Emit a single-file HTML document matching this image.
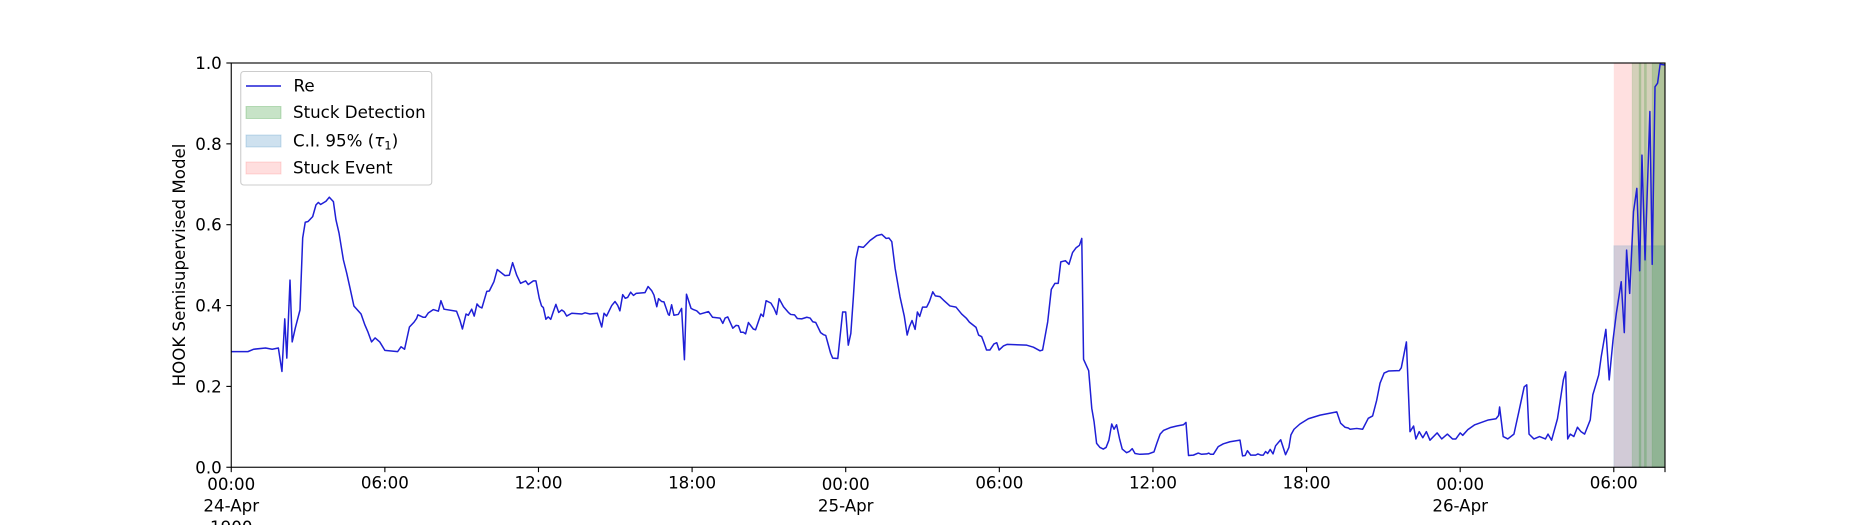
<!DOCTYPE html>
<html lang="en">
<head>
<meta charset="utf-8">
<title>HOOK Semisupervised Model chart</title>
<style>
html,body{margin:0;padding:0;background:#fff;width:1850px;height:525px;overflow:hidden}
svg{display:block}
text{font-family:"DejaVu Sans","Liberation Sans",sans-serif;fill:#000;font-size:16.67px}
</style>
</head>
<body>
<svg id="chart" xmlns="http://www.w3.org/2000/svg" width="1850" height="525" viewBox="0 0 1850 525">
  <defs><clipPath id="plot-clip"><rect x="231.25" y="63" width="1433.75" height="404.25"/></clipPath></defs>
  <g id="bands"></g>
  <g id="series" clip-path="url(#plot-clip)"></g>
  <g id="axes"></g>
  <text transform="translate(185,265) rotate(-90)" text-anchor="middle">HOOK Semisupervised Model</text>
  <g>
    <rect x="240.75" y="71.5" width="191" height="113.5" rx="3" fill="#fff" fill-opacity="0.8" stroke="#ccc" stroke-width="1.1"/>
    <line x1="246" y1="86" x2="281" y2="86" stroke="#1f1fd6" stroke-width="1.39"/>
    <text x="293.5" y="91.5">Re</text>
    <rect x="246" y="106.5" width="35" height="12" fill="rgb(0,128,0)" fill-opacity="0.22" stroke="rgb(0,128,0)" stroke-opacity="0.22"/>
    <text x="293" y="118">Stuck Detection</text>
    <rect x="246" y="135" width="35" height="12" fill="rgb(31,119,180)" fill-opacity="0.22" stroke="rgb(31,119,180)" stroke-opacity="0.22"/>
    <text x="293" y="146.5">C.I. 95% (<tspan font-style="italic">τ</tspan><tspan font-size="11.7" dy="3">1</tspan><tspan dy="-3">)</tspan></text>
    <rect x="246" y="162" width="35" height="12" fill="rgb(255,0,0)" fill-opacity="0.13" stroke="rgb(255,0,0)" stroke-opacity="0.13"/>
    <text x="293" y="173.5">Stuck Event</text>
  </g>
</svg>
<script>
const hours = [
0,.65,.88,1.34,1.6,1.84,1.98,2.09,2.17,2.295,
2.38,2.5,2.685,2.79,2.89,3.0,3.18,3.31,3.40,3.49,
3.70,3.83,3.99,4.09,4.21,4.38,4.51,4.64,4.79,5.07,
5.22,5.33,5.48,5.62,5.8,6.0,6.5,6.63,6.77,6.96,
7.14,7.24,7.29,7.5,7.58,7.7,7.89,8.09,8.19,8.31,
8.8,8.93,9.03,9.17,9.26,9.39,9.49,9.6,9.69,9.79,
9.98,10.08,10.26,10.39,10.69,10.86,10.99,11.15,11.3,11.5,
11.6,11.8,11.9,12.03,12.12,12.19,12.29,12.38,12.48,12.58,
12.68,12.79,12.91,13,13.1,13.3,13.69,13.82,14.01,14.3,
14.47,14.56,14.66,14.86,14.99,15.09,15.18,15.29,15.39,15.48,
15.6,15.71,15.81,16.16,16.28,16.42,16.51,16.62,16.69,16.81,
16.9,17.07,17.11,17.2,17.29,17.46,17.59,17.7,17.78,17.96,
18.05,18.18,18.31,18.64,18.8,19.09,19.2,19.29,19.39,19.59,
19.72,19.81,19.9,20,20.09,20.2,20.39,20.48,20.69,20.78,
20.89,21.08,21.2,21.3,21.4,21.57,21.76,21.85,22,22.11,
22.28,22.48,22.61,22.71,22.83,23.02,23.13,23.22,23.32,23.41,
23.49,23.69,23.88,24,24.1,24.2,24.3,24.39,24.5,24.69,
24.95,25.21,25.41,25.58,25.69,25.8,25.93,26.12,26.29,26.4,
26.49,26.59,26.71,26.8,26.89,27,27.16,27.27,27.4,27.5,
27.68,27.81,28.07,28.31,28.53,28.72,28.83,29.09,29.19,29.31,
29.4,29.5,29.63,29.79,29.9,29.99,30.16,30.31,31.07,31.33,
31.59,31.69,31.89,32.03,32.17,32.3,32.4,32.58,32.72,32.86,
33,33.13,33.22,33.29,33.49,33.61,33.7,33.8,33.93,34.06,
34.17,34.28,34.39,34.48,34.58,34.69,34.8,34.97,35.08,35.19,
35.3,35.49,35.82,36.04,36.15,36.28,36.41,36.67,36.93,37.19,
37.29,37.39,37.58,37.77,37.9,38.1,38.18,38.25,38.36,38.55,
38.75,39.01,39.4,39.5,39.6,39.69,39.82,40.01,40.1,40.21,
40.31,40.4,40.48,40.58,40.69,40.79,40.99,41.18,41.31,41.39,
41.51,41.74,42.07,42.53,43.18,43.33,43.5,43.63,43.7,43.96,
44.19,44.41,44.58,44.74,44.87,45.03,45.2,45.62,45.7,45.9,
46.04,46.18,46.27,46.4,46.54,46.68,46.82,47.1,47.28,47.5,
47.7,47.83,48,48.1,48.3,48.57,49.1,49.4,49.5,49.54,
49.68,49.86,50.1,50.28,50.5,50.6,50.69,50.88,51.1,51.33,
51.43,51.57,51.8,52.03,52.12,52.2,52.3,52.44,52.58,52.72,
52.86,53.08,53.18,53.41,53.51,53.69,53.82,53.97,54.1,54.29,
54.41,54.5,54.62,54.77,54.9,55.01,55.1,55.22,55.41,55.5,
55.61,55.71,55.81,56
];
const reValues = [
.286,.286,.292,.295,.292,.295,.237,.367,.27,.463,
.31,.344,.389,.567,.606,.608,.62,.649,.655,.65,
.658,.668,.657,.612,.579,.513,.48,.443,.399,.379,
.352,.336,.31,.32,.31,.289,.286,.298,.292,.347,
.359,.368,.377,.371,.371,.382,.39,.386,.412,.391,
.386,.364,.342,.379,.376,.391,.374,.404,.397,.394,
.435,.436,.459,.489,.474,.475,.506,.475,.455,.461,
.452,.461,.461,.418,.399,.395,.366,.372,.366,.385,
.403,.383,.389,.385,.374,.381,.379,.382,.379,.381,
.347,.381,.374,.4,.41,.401,.387,.427,.418,.42,
.433,.425,.43,.432,.447,.437,.426,.397,.417,.41,
.409,.378,.376,.402,.376,.378,.393,.266,.428,.393,
.39,.387,.379,.385,.371,.369,.356,.369,.372,.344,
.351,.35,.334,.334,.33,.358,.342,.34,.379,.373,
.412,.406,.393,.378,.417,.397,.383,.378,.377,.368,
.367,.371,.369,.36,.358,.333,.328,.326,.303,.282,
.27,.269,.384,.384,.302,.331,.422,.513,.546,.544,
.561,.573,.576,.566,.567,.558,.492,.422,.373,.327,
.348,.363,.341,.384,.373,.396,.396,.41,.434,.424,
.422,.414,.399,.396,.379,.368,.359,.346,.327,.323,
.308,.29,.29,.305,.308,.29,.3,.304,.302,.297,
.288,.29,.36,.44,.455,.455,.508,.511,.502,.531,
.543,.549,.566,.267,.239,.146,.113,.059,.049,.045,
.049,.067,.107,.094,.105,.072,.045,.036,.039,.046,
.034,.032,.033,.038,.059,.082,.091,.098,.102,.105,
.111,.029,.03,.035,.032,.033,.035,.032,.032,.051,
.058,.063,.067,.028,.029,.041,.03,.03,.033,.03,
.03,.039,.034,.044,.033,.053,.068,.031,.049,.08,
.094,.107,.12,.129,.137,.109,.099,.097,.094,.096,
.094,.121,.127,.166,.208,.233,.238,.239,.246,.31,
.088,.102,.07,.088,.073,.088,.067,.085,.07,.082,
.07,.07,.085,.079,.093,.105,.117,.12,.128,.149,
.076,.07,.082,.134,.199,.204,.082,.07,.076,.07,
.082,.067,.12,.216,.236,.07,.082,.076,.099,.088,
.082,.117,.179,.228,.274,.341,.216,.315,.381,.459,
.333,.537,.43,.632,.69,.486,.772,.513,.88,.502,
.941,.95,.997,.995
];
const yTicks = [0, 0.2, 0.4, 0.6, 0.8, 1.0];
const xTickHours = [0, 6, 12, 18, 24, 30, 36, 42, 48, 54, 56];
const xTickTimes = ["00:00","06:00","12:00","18:00","00:00","06:00","12:00","18:00","00:00","06:00",""];
const xTickDates = ["24-Apr","","","","25-Apr","","","","26-Apr","",""];
const xTickYears = ["1900","","","","","","","","","",""];
const stuckEventSpan = [54, 56];
const confidenceSpan = [54, 56];
const confidenceTop = 0.548;
const detectionStarts = [54.72, 54.99, 55.2, 55.5];
const detectionEnds = [56, 55.06, 55.27, 56];

const NS = 'http://www.w3.org/2000/svg';
const plotLeft = 231.25, plotRight = 1665, plotTop = 63, plotBottom = 467.25;
const xDomainMax = 56;
function xScale(h){ return plotLeft + (h / xDomainMax) * (plotRight - plotLeft); }
function yScale(v){ return plotBottom - v * (plotBottom - plotTop); }
function make(tag, attrs, parent){
  const el = document.createElementNS(NS, tag);
  for (const k in attrs) el.setAttribute(k, attrs[k]);
  parent.appendChild(el);
  return el;
}
const bands = document.getElementById('bands');
const series = document.getElementById('series');
const axes = document.getElementById('axes');

const pink = make('rect', {x:xScale(stuckEventSpan[0]), y:yScale(1), width:xScale(stuckEventSpan[1])-xScale(stuckEventSpan[0]), height:yScale(0)-yScale(1), fill:'rgb(255,0,0)', 'fill-opacity':0.12}, bands);



const ci = make('rect', {x:xScale(confidenceSpan[0]), y:yScale(confidenceTop), width:xScale(confidenceSpan[1])-xScale(confidenceSpan[0]), height:yScale(0)-yScale(confidenceTop), fill:'rgb(31,119,180)', 'fill-opacity':0.2, stroke:'rgb(31,119,180)', 'stroke-opacity':0.1}, bands);



detectionStarts.forEach(function(start, i){
  const r = make('rect', {x:xScale(start), y:yScale(1), width:xScale(detectionEnds[i])-xScale(start), height:yScale(0)-yScale(1), fill:'rgb(0,128,0)', 'fill-opacity':0.17, stroke:'rgb(0,128,0)', 'stroke-opacity':0.1}, bands);
  
  
});

const points = hours.map(function(h, i){ return xScale(h).toFixed(2) + ',' + yScale(reValues[i]).toFixed(2); }).join(' ');
const reLine = make('polyline', {points:points, fill:'none', stroke:'#1f1fd6', 'stroke-width':1.5, 'stroke-linejoin':'round'}, series);



const frame = make('rect', {x:plotLeft, y:plotTop, width:plotRight-plotLeft, height:plotBottom-plotTop, fill:'none', stroke:'#000', 'stroke-width':1.11}, axes);



yTicks.forEach(function(v){
  const y = yScale(v);
  const t = make('line', {x1:plotLeft-4.9, x2:plotLeft, y1:y, y2:y, stroke:'#000', 'stroke-width':1.11}, axes);
  
  
  const l = make('text', {x:plotLeft-9.5, y:y+6, 'text-anchor':'end'}, axes);
  
  
  l.textContent = v.toFixed(1);
});

xTickHours.forEach(function(h, i){
  const x = xScale(h);
  const t = make('line', {x1:x, x2:x, y1:plotBottom, y2:plotBottom+4.9, stroke:'#000', 'stroke-width':1.11}, axes);
  
  
  const multi = xTickDates[i] !== '';
  const baseY = multi ? 490 : 488.5;
  if (xTickTimes[i]) {
    const l = make('text', {x:x, y:baseY, 'text-anchor':'middle'}, axes);
    
    
    l.textContent = xTickTimes[i];
  }
  if (xTickDates[i]) {
    const l = make('text', {x:x, y:511.5, 'text-anchor':'middle'}, axes);
    
    
    l.textContent = xTickDates[i];
  }
  if (xTickYears[i]) {
    const l = make('text', {x:x, y:533, 'text-anchor':'middle'}, axes);
    
    
    l.textContent = xTickYears[i];
  }
});
</script>
</body>
</html>
